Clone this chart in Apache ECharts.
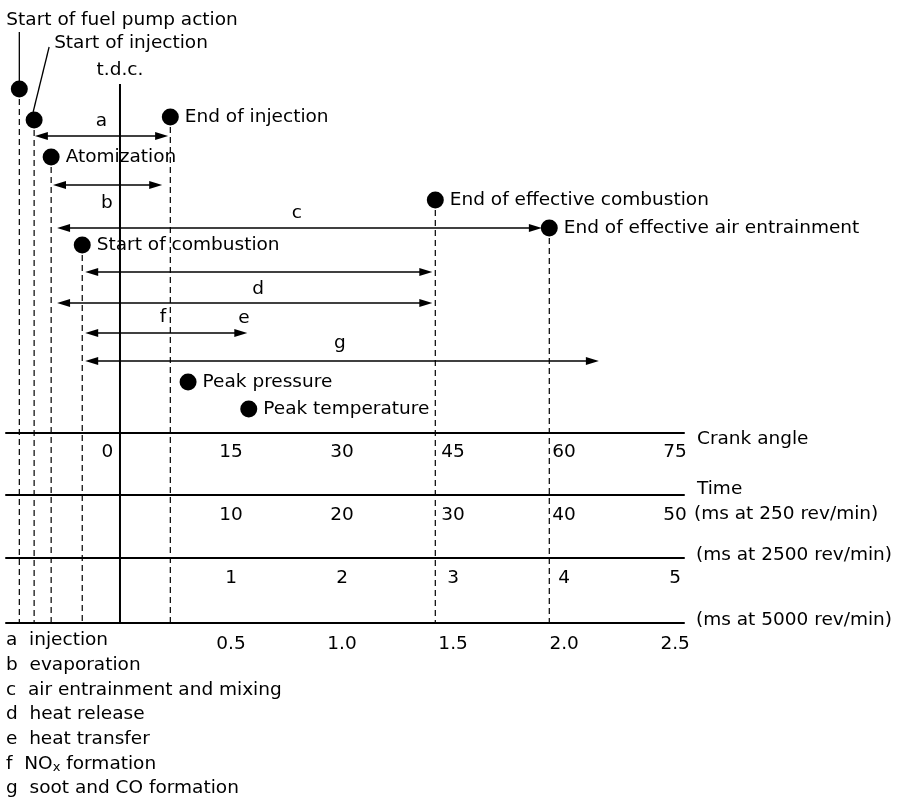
<!DOCTYPE html>
<html>
<head>
<meta charset="utf-8">
<script src="https://cdn.jsdelivr.net/npm/echarts@6/dist/echarts.min.js"></script>
<style>
html,body{margin:0;padding:0;background:#fff;}
#chart{width:897px;height:804px;}
</style>
</head>
<body>
<div id="chart"></div>
<script>
// ---------- data ----------
const eventNames = ['Start of fuel pump action', 'Start of injection', 'End of injection', 'Atomization',
  'End of effective combustion', 'End of effective air entrainment', 'Start of combustion',
  'Peak pressure', 'Peak temperature'];
const eventAngles = [-13.6, -11.6, 6.8, -9.3, 42.6, 58.0, -5.1, 9.2, 17.4];   // crank angle, deg
const eventHasGuide = [true, true, true, true, true, true, true, false, false];

const phaseKeys = ['a', 'b', 'c', 'd', 'e', 'f', 'g'];
const phaseNames = ['injection', 'evaporation', 'air entrainment and mixing', 'heat release',
  'heat transfer', 'NO{sub|x} formation', 'soot and CO formation'];

const arrowStart = [-11.5, -9.05, -8.5, -4.7, -8.5, -4.7, -4.7];   // deg
const arrowEnd = [6.5, 5.7, 57.0, 42.2, 42.2, 17.2, 64.7];          // deg

const crankTicks = [0, 15, 30, 45, 60, 75];
const engineSpeeds = [250, 2500, 5000];            // rev/min
const time250Ticks = [10, 20, 30, 40, 50];
const time2500Ticks = [1, 2, 3, 4, 5];
const time5000Ticks = [0.5, 1.0, 1.5, 2.0, 2.5];

// ---------- layout (positions only) ----------
const L = {
  degMin: -15.4, degMax: 76.2,
  yMax: 623,
  eventY: [89, 120, 117, 157, 200, 228, 245, 382, 409],
  arrowY: [136, 185, 228, 272, 303, 333, 361],
  letterPos: [ ['a', -2.5, 121], ['b', -1.76, 203], ['c', 23.9, 213], ['d', 18.65, 289],
               ['f', 5.8, 317], ['e', 16.76, 318], ['g', 29.7, 343] ],
  tdcTop: 84, tdcLabelY: 70,
  axisOffsets: [-190, -128, -65, 0]
};

const FONT = 'DejaVu Sans';
const FS = 18.5;
const chart = echarts.init(document.getElementById('chart'), null, {renderer: 'canvas'});

const msPerDeg = engineSpeeds.map(n => 60000 / n / 360);

function baseAxis(min, max, offset) {
  return {
    type: 'value', min: min, max: max, position: 'bottom', offset: offset,
    axisLine: {onZero: false, lineStyle: {color: '#000', width: 2}},
    axisTick: {show: false}, splitLine: {show: false},
    nameLocation: 'end'
  };
}

const ax0 = baseAxis(L.degMin, L.degMax, L.axisOffsets[0]);
ax0.axisLabel = {customValues: crankTicks, margin: 10, color: '#000', fontSize: FS, fontFamily: FONT,
  formatter: v => v === 0 ? '{z|0}' : String(v),
  rich: {z: {fontSize: FS, fontFamily: FONT, color: '#000', padding: [0, 25, 0, 0]}}};
ax0.name = 'Crank angle'; ax0.nameGap = 13;
ax0.nameTextStyle = {color: '#000', fontSize: FS, fontFamily: FONT, align: 'left', verticalAlign: 'top', lineHeight: 12};

const ax1 = baseAxis(L.degMin * msPerDeg[0], L.degMax * msPerDeg[0], L.axisOffsets[1]);
ax1.axisLabel = {customValues: time250Ticks, margin: 11, color: '#000', fontSize: FS, fontFamily: FONT};
ax1.name = '{t|Time}\n{m|(ms at ' + engineSpeeds[0] + ' rev/min)}'; ax1.nameGap = 10;
ax1.nameTextStyle = {color: '#000', fontSize: FS, fontFamily: FONT, align: 'left', verticalAlign: 'middle', padding: [13, 0, 0, 0],
  rich: {t: {fontSize: FS, fontFamily: FONT, color: '#000', lineHeight: 25, padding: [0, 0, 0, 3]},
         m: {fontSize: FS, fontFamily: FONT, color: '#000', lineHeight: 25}}};

const ax2 = baseAxis(L.degMin * msPerDeg[1], L.degMax * msPerDeg[1], L.axisOffsets[2]);
ax2.axisLabel = {customValues: time2500Ticks, margin: 11, color: '#000', fontSize: FS, fontFamily: FONT};
ax2.name = '(ms at ' + engineSpeeds[1] + ' rev/min)'; ax2.nameGap = 12;
ax2.nameTextStyle = {color: '#000', fontSize: FS, fontFamily: FONT, align: 'left', verticalAlign: 'bottom', lineHeight: 6};

const ax3 = baseAxis(L.degMin * msPerDeg[2], L.degMax * msPerDeg[2], L.axisOffsets[3]);
ax3.axisLabel = {customValues: time5000Ticks, margin: 12, color: '#000', fontSize: FS, fontFamily: FONT,
  formatter: v => v.toFixed(1)};
ax3.name = '(ms at ' + engineSpeeds[2] + ' rev/min)'; ax3.nameGap = 12;
ax3.nameTextStyle = {color: '#000', fontSize: FS, fontFamily: FONT, align: 'left', verticalAlign: 'bottom', lineHeight: 6};

// guide lines data
const guideData = [];
eventAngles.forEach((a, i) => { if (eventHasGuide[i]) guideData.push([a, L.eventY[i]]); });

// dots
const dotData = eventAngles.map((a, i) => ({
  name: eventNames[i], value: [a, L.eventY[i]],
  label: {show: i > 1}
}));

const legendText = phaseKeys.map((k, i) => k + '  ' + phaseNames[i]).join('\n');

const option = {
  animation: false,
  backgroundColor: '#fff',
  textStyle: {fontFamily: FONT, color: '#000'},
  title: {
    text: legendText, left: 6, top: 628, padding: 0,
    textStyle: {fontSize: FS, fontWeight: 'normal', color: '#000', fontFamily: FONT, lineHeight: 24.7,
      rich: {sub: {fontSize: 13, fontFamily: FONT, color: '#000', padding: [8, 0, 0, 0]}}}
  },
  grid: {left: 6, right: 213, top: 0, bottom: 181, outerBoundsMode: 'none'},
  xAxis: [ax0, ax1, ax2, ax3],
  yAxis: {type: 'value', min: 0, max: L.yMax, inverse: true, show: false},
  series: [
    { // dashed guide lines
      type: 'custom', xAxisIndex: 0, yAxisIndex: 0, data: guideData, z: 2, silent: true,
      renderItem: (params, api) => {
        const p1 = api.coord([api.value(0), api.value(1)]);
        const p2 = api.coord([api.value(0), L.yMax]);
        return {type: 'line', shape: {x1: p1[0], y1: p1[1], x2: p2[0], y2: p2[1]},
          style: {stroke: '#000', lineWidth: 1.2, lineDash: [6, 4]}};
      }
    },
    { // t.d.c. line
      type: 'custom', xAxisIndex: 0, yAxisIndex: 0, data: [[crankTicks[0], L.tdcTop]], z: 3, silent: true,
      renderItem: (params, api) => {
        const p1 = api.coord([api.value(0), api.value(1)]);
        const p2 = api.coord([api.value(0), L.yMax]);
        const pt = api.coord([api.value(0), L.tdcLabelY]);
        return {type: 'group', children: [
          {type: 'line', shape: {x1: p1[0], y1: p1[1], x2: p2[0], y2: p2[1]}, style: {stroke: '#000', lineWidth: 2}},
          {type: 'text', x: pt[0], y: pt[1], style: {text: 't.d.c.', fontSize: FS, fontFamily: FONT, fill: '#000', align: 'center', verticalAlign: 'middle'}}
        ]};
      }
    },
    { // arrows
      type: 'custom', xAxisIndex: 0, yAxisIndex: 0, z: 4, silent: true,
      data: arrowStart.map((s, i) => [s, arrowEnd[i], L.arrowY[i]]),
      renderItem: (params, api) => {
        const p1 = api.coord([api.value(0), api.value(2)]);
        const p2 = api.coord([api.value(1), api.value(2)]);
        const HL = 13, HW = 4;
        return {type: 'group', children: [
          {type: 'line', shape: {x1: p1[0] + 4, y1: p1[1], x2: p2[0] - 4, y2: p2[1]}, style: {stroke: '#000', lineWidth: 1.5}},
          {type: 'polygon', shape: {points: [[p1[0], p1[1]], [p1[0] + HL, p1[1] - HW], [p1[0] + HL, p1[1] + HW]]}, style: {fill: '#000'}},
          {type: 'polygon', shape: {points: [[p2[0], p2[1]], [p2[0] - HL, p2[1] - HW], [p2[0] - HL, p2[1] + HW]]}, style: {fill: '#000'}}
        ]};
      }
    },
    { // phase letters on arrows
      type: 'custom', xAxisIndex: 0, yAxisIndex: 0, z: 4, silent: true,
      data: L.letterPos.map(p => [p[1], p[2]]),
      renderItem: (params, api) => {
        const p = api.coord([api.value(0), api.value(1)]);
        return {type: 'text', x: p[0], y: p[1],
          style: {text: L.letterPos[params.dataIndex][0], fontSize: FS, fontFamily: FONT, fill: '#000', align: 'center', verticalAlign: 'middle'}};
      }
    },
    { // callouts for the first two events
      type: 'custom', xAxisIndex: 0, yAxisIndex: 0, z: 4, silent: true,
      data: [[eventAngles[0], L.eventY[0]], [eventAngles[1], L.eventY[1]]],
      renderItem: (params, api) => {
        const p = api.coord([api.value(0), api.value(1)]);
        const i = params.dataIndex;
        if (i === 0) {
          return {type: 'group', children: [
            {type: 'line', shape: {x1: p[0], y1: 32, x2: p[0], y2: p[1]}, style: {stroke: '#000', lineWidth: 1.3}},
            {type: 'text', x: p[0] - 13, y: 20, style: {text: eventNames[0], fontSize: FS, fontFamily: FONT, fill: '#000', align: 'left', verticalAlign: 'middle'}}
          ]};
        }
        return {type: 'group', children: [
          {type: 'line', shape: {x1: p[0] + 15, y1: 47, x2: p[0] - 1, y2: p[1] - 8}, style: {stroke: '#000', lineWidth: 1.3}},
          {type: 'text', x: p[0] + 20, y: 43, style: {text: eventNames[1], fontSize: FS, fontFamily: FONT, fill: '#000', align: 'left', verticalAlign: 'middle'}}
        ]};
      }
    },
    { // event dots
      type: 'scatter', xAxisIndex: 0, yAxisIndex: 0, z: 6, silent: true,
      symbol: 'circle', symbolSize: 17, itemStyle: {color: '#000', opacity: 1},
      label: {position: 'right', distance: 6, formatter: '{b}', fontSize: FS, fontFamily: FONT, color: '#000'},
      data: dotData
    }
  ]
};
chart.setOption(option);
</script>
</body>
</html>
